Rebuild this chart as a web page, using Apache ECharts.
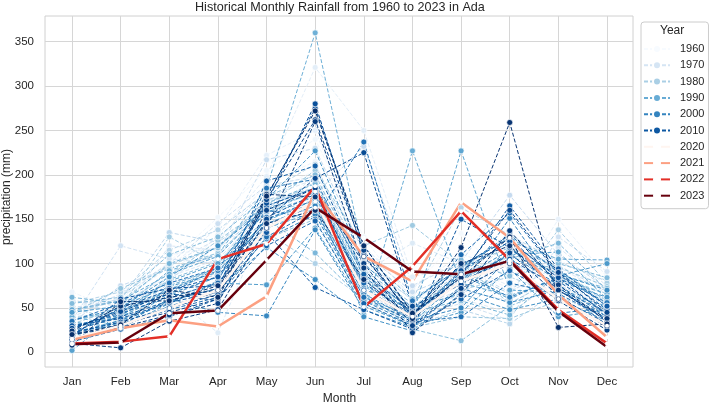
<!DOCTYPE html>
<html>
<head>
<meta charset="utf-8">
<script src="https://cdn.jsdelivr.net/npm/echarts@6/dist/echarts.min.js"></script>
<style>
html, body { margin: 0; padding: 0; background: #fff; }
#chart { width: 709px; height: 402px; }
</style>
</head>
<body>
<div id="chart"></div>
<script>
const months = ['Jan', 'Feb', 'Mar', 'Apr', 'May', 'Jun', 'Jul', 'Aug', 'Sep', 'Oct', 'Nov', 'Dec'];
const legendYears = ['1960', '1970', '1980', '1990', '2000', '2010', '2020', '2021', '2022', '2023'];

// monthly rainfall (mm), Jan..Dec
const r1960 = [45, 52, 88, 110, 165, 190, 95, 60, 105, 98, 85, 48];
const r1961 = [38, 40, 75, 98, 178, 205, 110, 70, 134, 80, 95, 55];
const r1962 = [55, 60, 102, 152, 205, 240, 130, 55, 95, 72, 78, 62];
const r1963 = [68, 45, 92, 125, 190, 215, 85, 48, 88, 110, 105, 70];
const r1964 = [42, 66, 110, 118, 170, 182, 100, 65, 78, 62, 150, 85];
const r1965 = [50, 58, 96, 140, 222, 250, 118, 72, 110, 95, 90, 58];
const r1966 = [35, 48, 80, 132, 198, 321, 250, 85, 98, 75, 72, 44];
const r1967 = [48, 70, 65, 22, 150, 200, 120, 62, 60, 45, 80, 52];
const r1968 = [30, 55, 85, 105, 160, 175, 90, 123, 100, 88, 96, 66];
const r1969 = [60, 42, 120, 115, 175, 195, 105, 58, 92, 135, 88, 40];
const r1970 = [40, 62, 98, 128, 182, 168, 80, 50, 70, 58, 118, 75];
const r1971 = [36, 120, 105, 100, 168, 185, 95, 45, 82, 122, 85, 60];
const r1972 = [52, 48, 82, 120, 155, 160, 78, 40, 55, 36, 130, 91];
const r1973 = [44, 65, 100, 145, 188, 198, 70, 35, 95, 68, 98, 68];
const r1974 = [58, 52, 90, 112, 217, 230, 112, 68, 90, 102, 76, 50];
const r1975 = [33, 75, 95, 108, 172, 178, 232, 75, 102, 177, 110, 72];
const r1976 = [47, 60, 135, 124, 162, 192, 88, 52, 64, 110, 92, 56];
const r1977 = [28, 38, 78, 92, 145, 165, 65, 30, 48, 32, 70, 45];
const r1978 = [55, 68, 115, 138, 180, 212, 98, 60, 163, 132, 102, 80];
const r1979 = [40, 44, 72, 88, 135, 100, 60, 36, 70, 85, 64, 38];
const r1980 = [46, 58, 98, 118, 172, 185, 86, 48, 92, 66, 138, 78];
const r1981 = [32, 50, 130, 100, 158, 170, 75, 42, 84, 108, 90, 54];
const r1982 = [50, 35, 86, 126, 165, 205, 120, 143, 100, 55, 85, 66];
const r1983 = [24, 30, 60, 80, 128, 150, 55, 28, 40, 38, 58, 30];
const r1984 = [44, 72, 94, 112, 160, 180, 82, 50, 96, 118, 96, 74];
const r1985 = [36, 46, 70, 96, 140, 162, 68, 26, 13, 52, 74, 48];
const r1986 = [55, 62, 110, 130, 175, 200, 92, 55, 104, 86, 100, 84];
const r1987 = [30, 40, 82, 102, 150, 112, 58, 38, 80, 105, 123, 70];
const r1988 = [62, 55, 100, 118, 168, 190, 90, 46, 58, 42, 88, 72];
const r1989 = [26, 48, 92, 110, 185, 360, 110, 60, 95, 130, 92, 58];
const r1990 = [40, 30, 75, 95, 148, 172, 42, 227, 78, 64, 82, 66];
const r1991 = [48, 58, 88, 108, 165, 185, 80, 45, 90, 125, 105, 104];
const r1992 = [22, 36, 64, 85, 140, 158, 62, 40, 227, 70, 68, 52];
const r1993 = [2, 45, 80, 100, 158, 175, 75, 34, 82, 110, 113, 60];
const r1994 = [34, 28, 55, 78, 76, 140, 52, 30, 45, 94, 40, 48];
const r1995 = [45, 52, 74, 90, 150, 168, 70, 42, 88, 60, 86, 100];
const r1996 = [28, 40, 66, 95, 172, 227, 100, 50, 66, 118, 80, 62];
const r1997 = [18, 34, 58, 72, 118, 82, 40, 24, 66, 48, 60, 35];
const r1998 = [36, 50, 85, 120, 162, 180, 76, 46, 84, 115, 88, 70];
const r1999 = [24, 30, 60, 45, 41, 138, 48, 28, 72, 56, 70, 40];
const r2000 = [30, 42, 70, 92, 145, 165, 66, 36, 50, 108, 44, 50];
const r2001 = [14, 28, 52, 68, 128, 155, 58, 32, 74, 151, 72, 45];
const r2002 = [26, 48, 66, 85, 150, 172, 72, 40, 90, 62, 84, 56];
const r2003 = [20, 36, 55, 80, 185, 195, 85, 44, 78, 110, 76, 40];
const r2004 = [35, 55, 78, 95, 160, 150, 237, 58, 96, 132, 90, 52];
const r2005 = [16, 30, 48, 62, 130, 160, 62, 34, 40, 78, 66, 38];
const r2006 = [28, 44, 62, 78, 152, 178, 78, 42, 110, 157, 88, 48];
const r2007 = [12, 26, 40, 60, 120, 148, 55, 30, 60, 92, 62, 32];
const r2008 = [24, 40, 58, 72, 193, 210, 88, 48, 98, 128, 80, 44];
const r2009 = [20, 50, 70, 85, 165, 185, 70, 38, 86, 165, 94, 52];
const r2010 = [30, 38, 56, 68, 135, 73, 48, 26, 150, 118, 70, 36];
const r2011 = [22, 34, 50, 65, 175, 275, 120, 45, 80, 105, 74, 30];
const r2012 = [17, 60, 72, 75, 168, 280, 110, 40, 92, 125, 84, 42];
const r2013 = [27, 46, 66, 58, 150, 196, 225, 52, 76, 112, 64, 28];
const r2014 = [14, 32, 45, 60, 172, 262, 115, 36, 88, 160, 90, 45];
const r2015 = [20, 28, 42, 55, 160, 185, 100, 30, 72, 100, 58, 25];
const r2016 = [10, 5, 35, 48, 140, 260, 95, 22, 65, 137, 76, 34];
const r2017 = [24, 52, 62, 70, 178, 175, 108, 42, 100, 120, 70, 38];
const r2018 = [8, 57, 58, 75, 145, 160, 82, 38, 118, 259, 60, 30];
const r2019 = [20, 31, 70, 62, 176, 272, 120, 44, 84, 130, 28, 32];
const r2020 = [15, 30, 50, 70, 140, 170, 70, 40, 80, 100, 60, 30];
const r2021 = [14, 27, 36, 29, 63, 181, 108, 80, 169, 129, 65, 17];
const r2022 = [10, 12, 18, 105, 122, 187, 51, 97, 159, 104, 48, 10];
const r2023 = [9, 11, 44, 47, 104, 163, 129, 91, 88, 103, 46, 6];

const pastYears = [r1960, r1961, r1962, r1963, r1964, r1965, r1966, r1967, r1968, r1969,
  r1970, r1971, r1972, r1973, r1974, r1975, r1976, r1977, r1978, r1979,
  r1980, r1981, r1982, r1983, r1984, r1985, r1986, r1987, r1988, r1989,
  r1990, r1991, r1992, r1993, r1994, r1995, r1996, r1997, r1998, r1999,
  r2000, r2001, r2002, r2003, r2004, r2005, r2006, r2007, r2008, r2009,
  r2010, r2011, r2012, r2013, r2014, r2015, r2016, r2017, r2018, r2019];
const recentYears = [r2020, r2021, r2022, r2023];

// matplotlib Blues / Reds
const blues = ['#f7fbff', '#deebf7', '#c6dbef', '#9ecae1', '#6baed6', '#4292c6', '#2171b5', '#08519c', '#08306b'];
const reds = ['#fff5f0', '#fee0d2', '#fcbba1', '#fc9272', '#fb6a4a', '#ef3b2c', '#cb181d', '#a50f15', '#67000d'];

function ramp(stops, t) {
  const p = t * (stops.length - 1);
  const i = Math.min(Math.floor(p), stops.length - 2);
  const f = p - i;
  const a = parseInt(stops[i].slice(1), 16), b = parseInt(stops[i + 1].slice(1), 16);
  const ch = s => Math.round(((a >> s) & 255) * (1 - f) + ((b >> s) & 255) * f);
  return 'rgb(' + ch(16) + ',' + ch(8) + ',' + ch(0) + ')';
}

const font = 'Liberation Sans, Arial, sans-serif';
const series = [];

pastYears.forEach((vals, i) => {
  const c = ramp(blues, i / (pastYears.length - 1));
  series.push({
    name: String(1960 + i),
    type: 'line',
    xAxisIndex: 2,
    yAxisIndex: 2,
    data: vals,
    symbol: 'circle',
    symbolSize: 6,
    lineStyle: { color: c, width: 1, type: [4, 2] },
    itemStyle: { color: c, borderColor: '#fff', borderWidth: 0.7 },
    emphasis: { disabled: true },
    silent: true
  });
});

recentYears.forEach((vals, i) => {
  const c = ramp(reds, i / (recentYears.length - 1));
  series.push({
    name: String(2020 + i),
    type: 'line',
    xAxisIndex: 2,
    yAxisIndex: 2,
    data: vals,
    symbol: 'circle',
    symbolSize: 4,
    lineStyle: { color: c, width: 2.5 },
    itemStyle: { color: '#fff', borderWidth: 0 },
    emphasis: { disabled: true },
    silent: true
  });
});

const chart = echarts.init(document.getElementById('chart'));
chart.setOption({
  animation: false,
  backgroundColor: '#fff',
  textStyle: { fontFamily: font },
  title: [
    {
      text: 'Historical Monthly Rainfall from 1960 to 2023 in Ada',
      left: 195, top: 1, padding: 0,
      textStyle: { fontSize: 12.6, fontWeight: 'normal', color: '#262626', fontFamily: font }
    },
    {
      text: 'Year',
      left: 660, top: 25, padding: 0, z: 10,
      textStyle: { fontSize: 12, fontWeight: 'normal', color: '#262626', fontFamily: font }
    }
  ],
  legend: {
    data: legendYears,
    orient: 'vertical',
    left: 641, top: 22,
    padding: [21, 4, 7, 2],
    itemWidth: 26, itemHeight: 10, itemGap: 4.3,
    backgroundColor: '#fff',
    borderColor: '#cccccc', borderWidth: 1, borderRadius: 3,
    selectedMode: false,
    textStyle: { fontSize: 11, lineHeight: 12, color: '#262626', fontFamily: font, padding: [0, 0, 0, 5] }
  },
  grid: [
    { left: 45, top: 16, width: 588, height: 351, outerBoundsMode: 'none', show: true, borderColor: '#d0d0d0', borderWidth: 1, backgroundColor: 'transparent' },
    { left: 45, top: 41.7, width: 588, height: 310.6, outerBoundsMode: 'none' },
    { left: 72, top: 16, width: 535, height: 351, outerBoundsMode: 'none' }
  ],
  xAxis: [
    { gridIndex: 0, type: 'value', show: false },
    { gridIndex: 1, type: 'value', show: false },
    {
      gridIndex: 2, type: 'category', data: months, boundaryGap: false, position: 'bottom',
      axisLine: { show: false, onZero: false }, axisTick: { show: false },
      axisLabel: { color: '#262626', fontSize: 11.5, margin: 9 },
      splitLine: { show: true, lineStyle: { color: '#d6d6d6', width: 1 } },
      name: 'Month', nameLocation: 'middle', nameGap: 23,
      nameTextStyle: { fontSize: 12, color: '#262626' }
    }
  ],
  yAxis: [
    { gridIndex: 0, type: 'value', show: false },
    {
      gridIndex: 1, type: 'value', min: 0, max: 350, interval: 50,
      axisLine: { show: false }, axisTick: { show: false },
      axisLabel: { color: '#262626', fontSize: 11.5, margin: 11 },
      splitLine: { show: true, lineStyle: { color: '#d6d6d6', width: 1 } },
      name: 'precipitation (mm)', nameLocation: 'middle', nameGap: 32, nameMoveOverlap: false,
      nameTextStyle: { fontSize: 12, color: '#262626' }
    },
    { gridIndex: 2, type: 'value', min: -16.6, max: 379, show: false }
  ],
  series: series
});
</script>
</body>
</html>
